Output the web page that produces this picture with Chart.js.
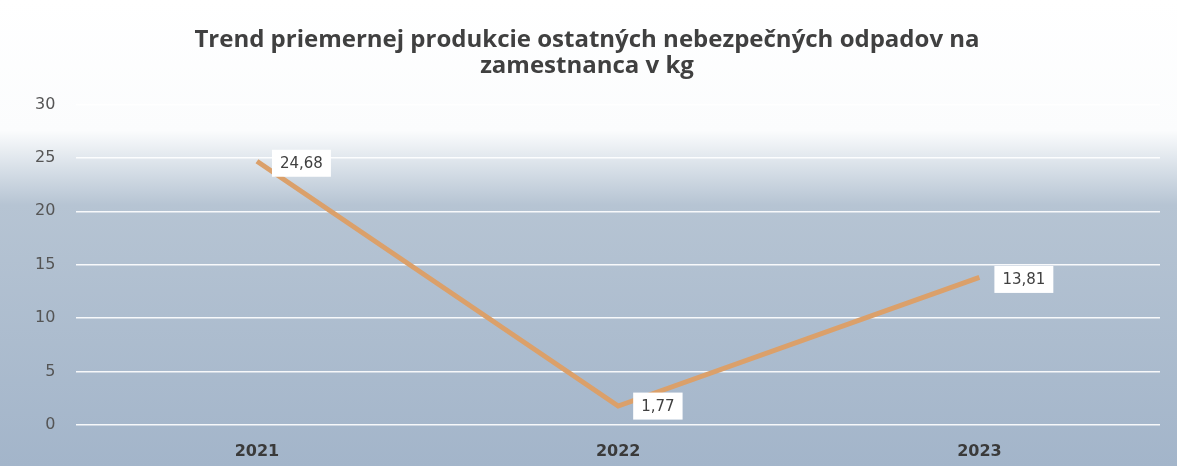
<!DOCTYPE html>
<html>
<head>
<meta charset="utf-8">
<script src="https://cdn.jsdelivr.net/npm/chart.js@4.4.0/dist/chart.umd.min.js"></script>
<style>
    html, body { margin: 0; padding: 0; background: #fff; }
    #wrap { width: 1177px; height: 466px; position: relative; }
</style>
</head>
<body>
<div id="wrap"><canvas id="trendChart"></canvas></div>
<script>
// chart data
const years = ['2021', '2022', '2023'];
const kgPerEmployee = [24.68, 1.77, 13.81];
const valueLabels = ['24,68', '1,77', '13,81'];
const titleLines = ['Trend priemernej produkcie ostatných nebezpečných odpadov na', 'zamestnanca v kg'];

/**
 * Paint the scanned-looking background: white at top, blue-gray below
 */
const backgroundPlugin = {
    id: 'bgGradient',
    beforeDraw(chart) {
        const { ctx, width, height } = chart;
        const g = ctx.createLinearGradient(0, 0, 0, height);
        g.addColorStop(0, '#ffffff');
        g.addColorStop(0.28, '#fbfcfd');
        g.addColorStop(0.36, '#d8e0e8');
        g.addColorStop(0.44, '#b6c4d3');
        g.addColorStop(1, '#a3b5ca');
        ctx.save();
        ctx.fillStyle = g;
        ctx.fillRect(0, 0, width, height);
        ctx.restore();
    }
};

/**
 * Boxed value labels to the right of each point
 */
const valueLabelPlugin = {
    id: 'valueLabels',
    afterDatasetsDraw(chart) {
        const { ctx } = chart;
        const meta = chart.getDatasetMeta(0);
        ctx.save();
        ctx.font = '15px "DejaVu Sans"';
        ctx.textBaseline = 'middle';
        meta.data.forEach((pt, i) => {
            const text = valueLabels[i];
            const w = ctx.measureText(text).width + 16;
            const h = 27;
            const x = pt.x + 15;
            const y = pt.y - h / 2 + (i === 1 ? 0 : 2);
            ctx.fillStyle = '#ffffff';
            ctx.fillRect(x, y, w, h);
            ctx.fillStyle = '#404040';
            ctx.fillText(text, x + 8, y + h / 2 + 1);
        });
        ctx.restore();
    }
};

new Chart(document.getElementById('trendChart'), {
    type: 'line',
    data: {
        labels: years,
        datasets: [{
            data: kgPerEmployee,
            borderColor: '#dba06a',
            borderWidth: 5,
            pointRadius: 0,
            tension: 0,
            fill: false
        }]
    },
    options: {
        responsive: true,
        maintainAspectRatio: false,
        animation: false,
        layout: {
            padding: { left: 14, right: 17, top: 6, bottom: 2 }
        },
        plugins: {
            legend: { display: false },
            tooltip: { enabled: false },
            title: {
                display: true,
                text: titleLines,
                color: '#404040',
                font: { family: '"Open Sans"', size: 24, weight: 'bold', lineHeight: 1.05 },
                padding: { top: 22, bottom: 26 }
            }
        },
        scales: {
            x: {
                offset: true,
                grid: { display: false },
                border: { display: false },
                ticks: {
                    color: '#3a3a3a',
                    font: { family: '"DejaVu Sans"', size: 16, weight: 'bold' },
                    padding: 9
                },
                afterFit(scale) {
                    scale.height = 39;
                }
            },
            y: {
                min: 0,
                max: 30,
                ticks: {
                    stepSize: 5,
                    color: '#555555',
                    font: { family: '"DejaVu Sans"', size: 16 },
                    padding: 21
                },
                grid: {
                    color: 'rgba(255,255,255,0.9)',
                    lineWidth: 1.5,
                    drawTicks: false
                },
                border: { display: false }
            }
        }
    },
    plugins: [backgroundPlugin, valueLabelPlugin]
});
</script>
</body>
</html>
